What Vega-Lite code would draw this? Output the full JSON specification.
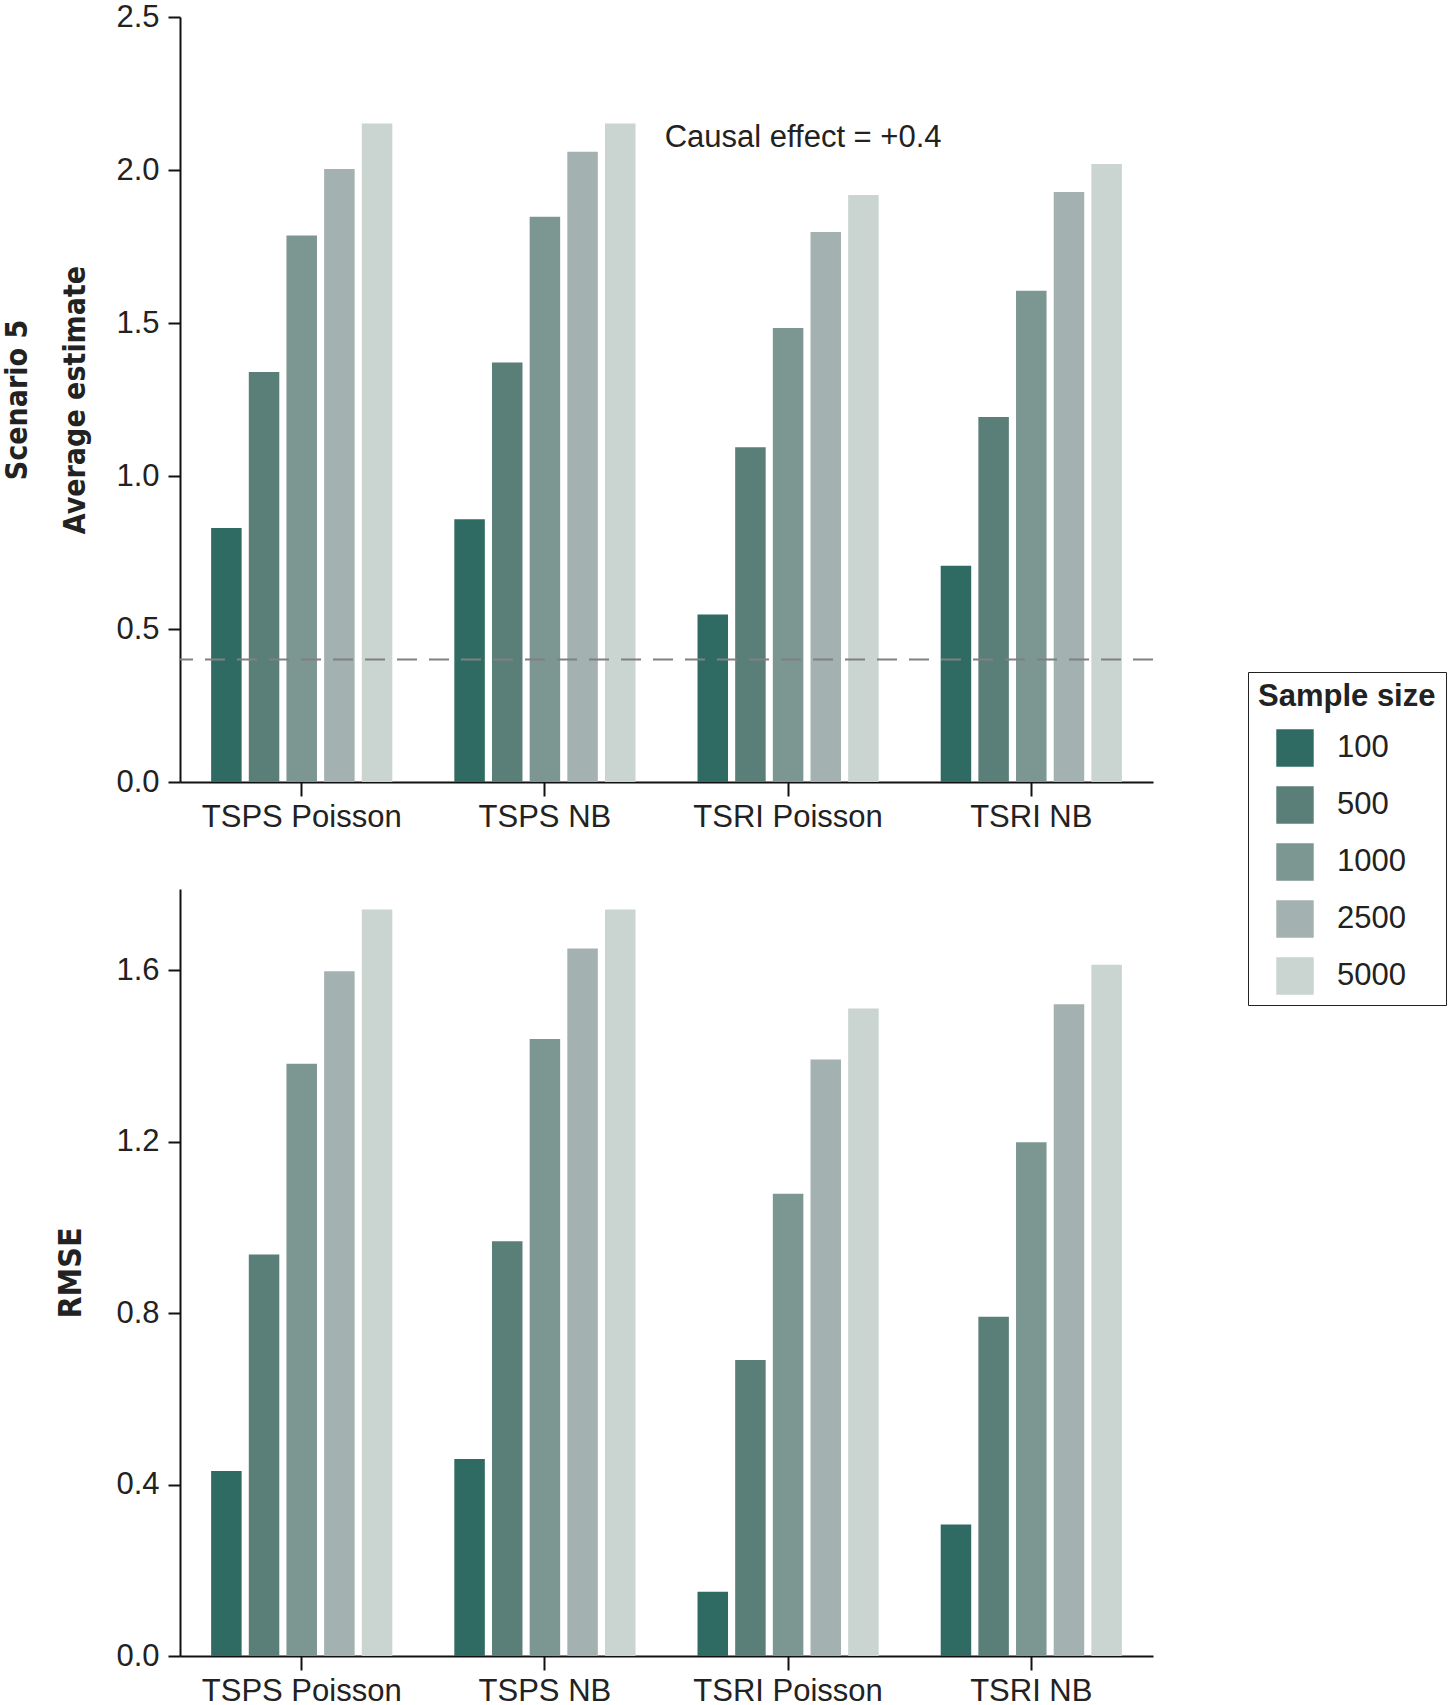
{
  "$schema": "https://vega.github.io/schema/vega-lite/v6.json",
  "padding": {"left": 2, "top": 1, "right": 0, "bottom": 0},
  "background": "white",
  "spacing": 57,
  "datasets": {
    "est": [
      {"method": "TSPS Poisson", "size": "100", "value": 0.83},
      {"method": "TSPS Poisson", "size": "500", "value": 1.34},
      {"method": "TSPS Poisson", "size": "1000", "value": 1.786},
      {"method": "TSPS Poisson", "size": "2500", "value": 2.003},
      {"method": "TSPS Poisson", "size": "5000", "value": 2.152},
      {"method": "TSPS NB", "size": "100", "value": 0.859},
      {"method": "TSPS NB", "size": "500", "value": 1.371},
      {"method": "TSPS NB", "size": "1000", "value": 1.847},
      {"method": "TSPS NB", "size": "2500", "value": 2.06},
      {"method": "TSPS NB", "size": "5000", "value": 2.152},
      {"method": "TSRI Poisson", "size": "100", "value": 0.547},
      {"method": "TSRI Poisson", "size": "500", "value": 1.094},
      {"method": "TSRI Poisson", "size": "1000", "value": 1.484},
      {"method": "TSRI Poisson", "size": "2500", "value": 1.797},
      {"method": "TSRI Poisson", "size": "5000", "value": 1.918},
      {"method": "TSRI NB", "size": "100", "value": 0.707},
      {"method": "TSRI NB", "size": "500", "value": 1.193},
      {"method": "TSRI NB", "size": "1000", "value": 1.605},
      {"method": "TSRI NB", "size": "2500", "value": 1.928},
      {"method": "TSRI NB", "size": "5000", "value": 2.02}
    ],
    "rmse": [
      {"method": "TSPS Poisson", "size": "100", "value": 0.432},
      {"method": "TSPS Poisson", "size": "500", "value": 0.937},
      {"method": "TSPS Poisson", "size": "1000", "value": 1.382},
      {"method": "TSPS Poisson", "size": "2500", "value": 1.598},
      {"method": "TSPS Poisson", "size": "5000", "value": 1.742},
      {"method": "TSPS NB", "size": "100", "value": 0.46},
      {"method": "TSPS NB", "size": "500", "value": 0.968},
      {"method": "TSPS NB", "size": "1000", "value": 1.44},
      {"method": "TSPS NB", "size": "2500", "value": 1.651},
      {"method": "TSPS NB", "size": "5000", "value": 1.742},
      {"method": "TSRI Poisson", "size": "100", "value": 0.15},
      {"method": "TSRI Poisson", "size": "500", "value": 0.691},
      {"method": "TSRI Poisson", "size": "1000", "value": 1.079},
      {"method": "TSRI Poisson", "size": "2500", "value": 1.392},
      {"method": "TSRI Poisson", "size": "5000", "value": 1.511},
      {"method": "TSRI NB", "size": "100", "value": 0.307},
      {"method": "TSRI NB", "size": "500", "value": 0.792},
      {"method": "TSRI NB", "size": "1000", "value": 1.199},
      {"method": "TSRI NB", "size": "2500", "value": 1.521},
      {"method": "TSRI NB", "size": "5000", "value": 1.613}
    ],
    "note": [{"label": "Causal effect = +0.4", "effect": 0.4}]
  },
  "config": {
    "view": {"stroke": null},
    "font": "Liberation Sans",
    "axis": {
      "domainColor": "#111", "domainWidth": 2, "tickColor": "#111", "tickWidth": 2,
      "labelFont": "Liberation Sans", "labelFontSize": 31, "labelColor": "#222", "grid": false, "labelLimit": 0,
      "titleFont": "DejaVu Sans Condensed, Liberation Sans", "titleFontSize": 32, "titleFontWeight": "bold", "titleColor": "#222"
    }
  },
  "vconcat": [
    {
      "width": 973,
      "height": 765,
      "layer": [
        {
          "data": {"name": "est"},
          "mark": {"type": "bar"},
          "encoding": {
            "x": {"field": "method", "type": "nominal", "sort": ["TSPS Poisson", "TSPS NB", "TSRI Poisson", "TSRI NB"],
                  "scale": {"paddingInner": 0.255, "paddingOuter": 0.128},
                  "axis": {"title": null, "tickSize": 14, "labelPadding": 6, "labelAngle": 0}},
            "xOffset": {"field": "size", "type": "nominal", "sort": ["100", "500", "1000", "2500", "5000"],
                        "scale": {"paddingInner": 0.19, "paddingOuter": 0}},
            "y": {"field": "value", "type": "quantitative", "scale": {"domain": [0, 2.5], "nice": false},
                  "axis": {"title": ["Scenario 5", "Average estimate"], "values": [0, 0.5, 1, 1.5, 2, 2.5], "format": ".1f",
                           "tickSize": 12, "labelPadding": 9, "titlePadding": 25, "titleFontSize": 30, "titleLineHeight": 58}},
            "color": {"field": "size", "type": "nominal", "sort": ["100", "500", "1000", "2500", "5000"],
                      "scale": {"domain": ["100", "500", "1000", "2500", "5000"], "range": ["#2f6b62", "#5a7f79", "#7c9692", "#a3b2b0", "#cad4d1"]},
                      "legend": {"orient": "none", "legendX": 1068, "legendY": 655, "title": "Sample size",
                                 "titleFont": "Liberation Sans", "titleFontSize": 31, "titleFontWeight": "bold", "titleColor": "#222",
                                 "labelFont": "Liberation Sans", "labelFontSize": 31, "labelColor": "#222",
                                 "symbolType": "square", "symbolSize": 1400, "symbolStrokeWidth": 0,
                                 "strokeColor": "#222", "padding": 10, "rowPadding": 19, "labelOffset": 23,
                                 "symbolOffset": 18, "titlePadding": 16}}
          }
        },
        {
          "data": {"name": "note"},
          "mark": {"type": "rule", "strokeDash": [20, 12], "color": "#808080", "strokeWidth": 2},
          "encoding": {"y": {"field": "effect", "type": "quantitative"}}
        },
        {
          "data": {"name": "note"},
          "mark": {"type": "text", "fontSize": 31, "font": "Liberation Sans", "color": "#222", "dx": 15, "baseline": "middle", "align": "center"},
          "encoding": {"x": {"datum": "TSRI Poisson"}, "y": {"datum": 2.105}, "text": {"field": "label"}}
        }
      ]
    },
    {
      "width": 973,
      "height": 767,
      "data": {"name": "rmse"},
      "mark": {"type": "bar"},
      "encoding": {
        "x": {"field": "method", "type": "nominal", "sort": ["TSPS Poisson", "TSPS NB", "TSRI Poisson", "TSRI NB"],
              "scale": {"paddingInner": 0.255, "paddingOuter": 0.128},
              "axis": {"title": null, "tickSize": 14, "labelPadding": 6, "labelAngle": 0}},
        "xOffset": {"field": "size", "type": "nominal", "sort": ["100", "500", "1000", "2500", "5000"],
                    "scale": {"paddingInner": 0.19, "paddingOuter": 0}},
        "y": {"field": "value", "type": "quantitative", "scale": {"domain": [0, 1.79], "nice": false},
              "axis": {"title": "RMSE", "values": [0, 0.4, 0.8, 1.2, 1.6], "format": ".1f",
                       "tickSize": 12, "labelPadding": 9, "titlePadding": 28}},
        "color": {"field": "size", "type": "nominal", "sort": ["100", "500", "1000", "2500", "5000"],
                  "scale": {"domain": ["100", "500", "1000", "2500", "5000"], "range": ["#2f6b62", "#5a7f79", "#7c9692", "#a3b2b0", "#cad4d1"]},
                  "legend": {"orient": "none", "legendX": 1068, "legendY": 655, "title": "Sample size",
                             "titleFont": "Liberation Sans", "titleFontSize": 31, "titleFontWeight": "bold", "titleColor": "#222",
                             "labelFont": "Liberation Sans", "labelFontSize": 31, "labelColor": "#222",
                             "symbolType": "square", "symbolSize": 1400, "symbolStrokeWidth": 0,
                             "strokeColor": "#222", "padding": 10, "rowPadding": 19, "labelOffset": 23,
                             "symbolOffset": 18, "titlePadding": 16}}
      }
    }
  ]
}
